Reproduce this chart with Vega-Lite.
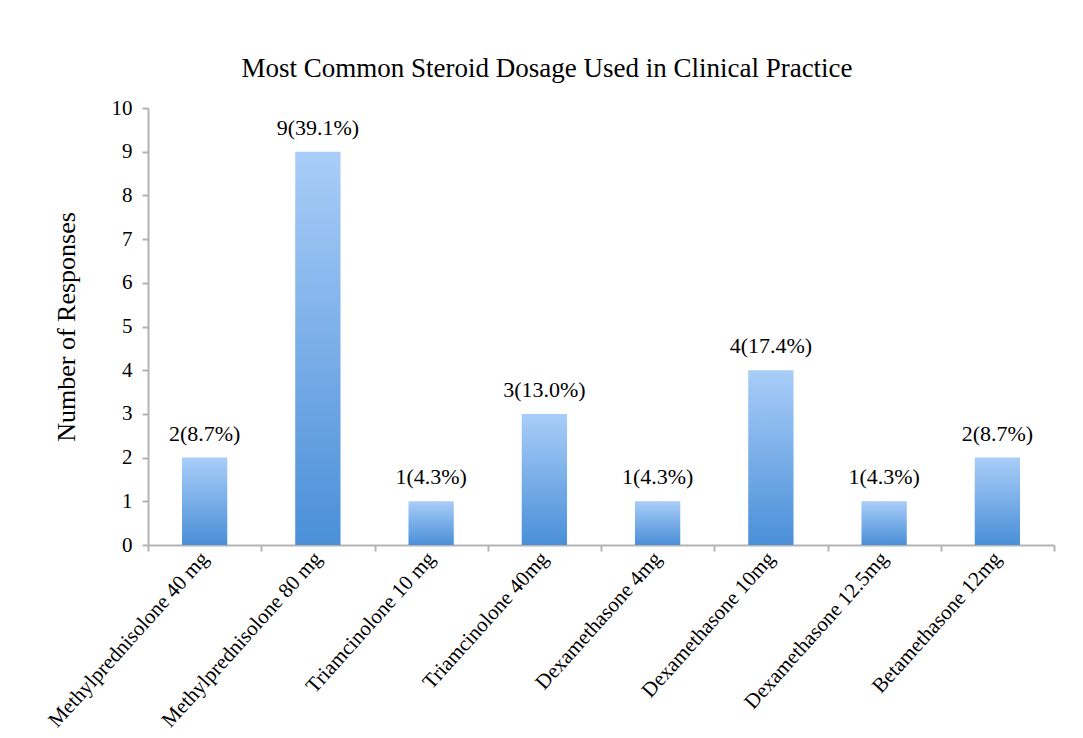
{
  "$schema": "https://vega.github.io/schema/vega-lite/v6.json",
  "autosize": {"type": "none"},
  "width": 906,
  "height": 437,
  "padding": {"left": 148, "top": 108, "right": 29, "bottom": 193},
  "background": "white",
  "config": {
    "view": {"stroke": null},
    "font": "Liberation Serif"
  },
  "title": {
    "text": "Most Common Steroid Dosage Used in Clinical Practice",
    "font": "Liberation Serif",
    "fontSize": 27,
    "fontWeight": "normal",
    "color": "black",
    "anchor": "middle",
    "dx": -54,
    "offset": 14
  },
  "data": {
    "values": [
      {"drug": "Methylprednisolone 40 mg", "n": 2, "label": "2(8.7%)"},
      {"drug": "Methylprednisolone 80 mg", "n": 9, "label": "9(39.1%)"},
      {"drug": "Triamcinolone 10 mg", "n": 1, "label": "1(4.3%)"},
      {"drug": "Triamcinolone 40mg", "n": 3, "label": "3(13.0%)"},
      {"drug": "Dexamethasone 4mg", "n": 1, "label": "1(4.3%)"},
      {"drug": "Dexamethasone 10mg", "n": 4, "label": "4(17.4%)"},
      {"drug": "Dexamethasone 12.5mg", "n": 1, "label": "1(4.3%)"},
      {"drug": "Betamethasone 12mg", "n": 2, "label": "2(8.7%)"}
    ]
  },
  "encoding": {
    "x": {
      "field": "drug",
      "type": "nominal",
      "sort": null,
      "scale": {"paddingInner": 0, "paddingOuter": 0},
      "axis": {
        "title": null,
        "labelAngle": -48,
        "labelAlign": "right",
        "labelBaseline": "middle",
        "labelFont": "Liberation Serif",
        "labelFontSize": 21,
        "labelColor": "black",
        "labelPadding": 4,
        "labelLimit": 400,
        "tickBand": "extent",
        "tickColor": "#b3b3b3",
        "tickWidth": 2,
        "tickSize": 6,
        "domainColor": "#b3b3b3",
        "domainWidth": 2
      }
    },
    "y": {
      "field": "n",
      "type": "quantitative",
      "scale": {"domain": [0, 10]},
      "axis": {
        "title": "Number of Responses",
        "titleFont": "Liberation Serif",
        "titleFontSize": 26,
        "titleFontWeight": "normal",
        "titleColor": "black",
        "titlePadding": 32,
        "values": [0, 1, 2, 3, 4, 5, 6, 7, 8, 9, 10],
        "grid": false,
        "labelFont": "Liberation Serif",
        "labelFontSize": 21,
        "labelColor": "black",
        "labelPadding": 10,
        "tickColor": "#b3b3b3",
        "tickWidth": 2,
        "tickSize": 6,
        "domainColor": "#b3b3b3",
        "domainWidth": 2
      }
    }
  },
  "layer": [
    {
      "mark": {
        "type": "bar",
        "width": {"band": 0.4},
        "color": {
          "gradient": "linear",
          "x1": 0, "y1": 0, "x2": 0, "y2": 1,
          "stops": [
            {"offset": 0, "color": "#a9cdf8"},
            {"offset": 1, "color": "#4a8fd8"}
          ]
        }
      }
    },
    {
      "mark": {
        "type": "text",
        "baseline": "bottom",
        "dy": -12,
        "font": "Liberation Serif",
        "fontSize": 22,
        "color": "black"
      },
      "encoding": {"text": {"field": "label"}}
    }
  ]
}
